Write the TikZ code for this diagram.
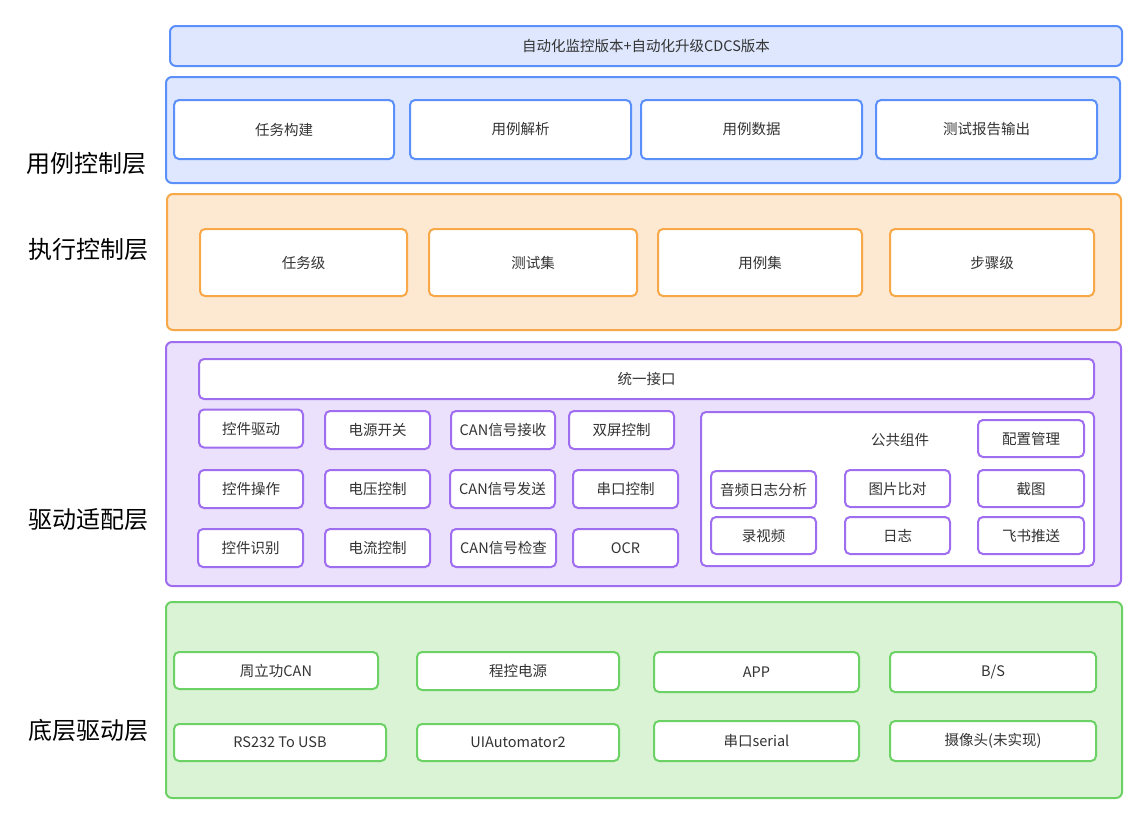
\documentclass[tikz,border=0pt]{standalone}
\usepackage{fontspec}
\setmainfont{Noto Sans CJK SC}
\usetikzlibrary{positioning}
\definecolor{bluel}{HTML}{5B8FF9}
\definecolor{bluef}{HTML}{DEE7FD}
\definecolor{orangel}{HTML}{F8A847}
\definecolor{orangef}{HTML}{FDE8D2}
\definecolor{purplel}{HTML}{9F6DF0}
\definecolor{purplef}{HTML}{EBE1FC}
\definecolor{greenl}{HTML}{6CD265}
\definecolor{greenf}{HTML}{DAF3D5}
\definecolor{txt}{HTML}{333333}

\begin{document}
\begin{tikzpicture}[x=1pt,y=-1pt,
  every node/.style={font=\fontsize{14.5}{16}\selectfont,text=txt,inner sep=0pt},
  layer/.style={draw=#1l,fill=#1f,line width=2pt,rounded corners=6pt},
  item/.style={draw=#1l,fill=white,line width=2pt,rounded corners=5pt},
  title/.style={font=\fontsize{24}{28}\selectfont,text=black}]
\useasboundingbox (0,0) rectangle (1144,815);
% top bar
\node[layer=blue,minimum width=952pt,minimum height=40pt] (top) at (646,46) {自动化监控版本+自动化升级CDCS版本};
% use case control layer
\node[layer=blue,minimum width=954pt,minimum height=106pt] (L1) at (643,130) {};
\node[title] (t1) at (87,163) {用例控制层};
\node[item=blue,minimum width=220pt,minimum height=59pt] (u1) at (284,129.5) {任务构建};
\node[item=blue,minimum width=221pt,minimum height=59pt] (u2) at (520.5,129.5) {用例解析};
\node[item=blue,minimum width=221pt,minimum height=59pt] (u3) at (751.5,129.5) {用例数据};
\node[item=blue,minimum width=221pt,minimum height=59pt] (u4) at (986.5,129.5) {测试报告输出};
% execution control layer
\node[layer=orange,minimum width=954pt,minimum height=136pt] (L2) at (644,262) {};
\node[title] (t2) at (88,249) {执行控制层};
\node[item=orange,minimum width=207pt,minimum height=67pt] (e1) at (303.5,262.5) {任务级};
\node[item=orange,minimum width=208pt,minimum height=67pt] (e2) at (533,262.5) {测试集};
\node[item=orange,minimum width=204pt,minimum height=67pt] (e3) at (760,262.5) {用例集};
\node[item=orange,minimum width=204pt,minimum height=67pt] (e4) at (992,262.5) {步骤级};
% driver adaptation layer
\node[layer=purple,minimum width=955pt,minimum height=244pt] (L3) at (643.5,464) {};
\node[title] (t3) at (88,520) {驱动适配层};
\node[item=purple,minimum width=895pt,minimum height=40pt] (api) at (646.5,379) {统一接口};
\node[item=purple,minimum width=104pt,minimum height=38pt] (d11) at (251,428.5) {控件驱动};
\node[item=purple,minimum width=105pt,minimum height=38pt] (d12) at (377.5,430) {电源开关};
\node[item=purple,minimum width=104pt,minimum height=38pt] (d13) at (503,430) {CAN信号接收};
\node[item=purple,minimum width=105pt,minimum height=38pt] (d14) at (621.5,430) {双屏控制};
\node[item=purple,minimum width=104pt,minimum height=38pt] (d21) at (251,489) {控件操作};
\node[item=purple,minimum width=105pt,minimum height=38pt] (d22) at (377.5,489) {电压控制};
\node[item=purple,minimum width=105pt,minimum height=38pt] (d23) at (502.5,489) {CAN信号发送};
\node[item=purple,minimum width=105pt,minimum height=38pt] (d24) at (625.5,489) {串口控制};
\node[item=purple,minimum width=105pt,minimum height=38pt] (d31) at (250.5,548) {控件识别};
\node[item=purple,minimum width=105pt,minimum height=38pt] (d32) at (377.5,548) {电流控制};
\node[item=purple,minimum width=105pt,minimum height=38pt] (d33) at (503.5,548) {CAN信号检查};
\node[item=purple,minimum width=105pt,minimum height=38pt] (d34) at (625.5,548) {OCR};
% common components
\node[item=purple,minimum width=393pt,minimum height=154pt] (com) at (897.5,489) {};
\node (comt) at (900,440) {公共组件};
\node[item=purple,minimum width=106pt,minimum height=37pt] (c0) at (1031,438.5) {配置管理};
\node[item=purple,minimum width=105pt,minimum height=37pt] (c11) at (763.5,489.5) {音频日志分析};
\node[item=purple,minimum width=105pt,minimum height=37pt] (c12) at (897.5,488.5) {图片比对};
\node[item=purple,minimum width=106pt,minimum height=37pt] (c13) at (1031,488.5) {截图};
\node[item=purple,minimum width=105pt,minimum height=37pt] (c21) at (763.5,535.5) {录视频};
\node[item=purple,minimum width=105pt,minimum height=37pt] (c22) at (897.5,535.5) {日志};
\node[item=purple,minimum width=106pt,minimum height=37pt] (c23) at (1031,535.5) {飞书推送};
% bottom driver layer
\node[layer=green,minimum width=956pt,minimum height=196pt] (L4) at (644,700) {};
\node[title] (t4) at (88,730) {底层驱动层};
\node[item=green,minimum width=204pt,minimum height=37pt] (b11) at (276,670.5) {周立功CAN};
\node[item=green,minimum width=202pt,minimum height=38pt] (b12) at (518,671) {程控电源};
\node[item=green,minimum width=205pt,minimum height=40pt] (b13) at (756.5,672) {APP};
\node[item=green,minimum width=206pt,minimum height=40pt] (b14) at (993,672) {B/S};
\node[item=green,minimum width=212pt,minimum height=37pt] (b21) at (280,742.5) {RS232 To USB};
\node[item=green,minimum width=202pt,minimum height=37pt] (b22) at (518,742.5) {UIAutomator2};
\node[item=green,minimum width=205pt,minimum height=40pt] (b23) at (756.5,741) {串口serial};
\node[item=green,minimum width=206pt,minimum height=40pt] (b24) at (993,741) {摄像头(未实现)};
\end{tikzpicture}
\end{document}
